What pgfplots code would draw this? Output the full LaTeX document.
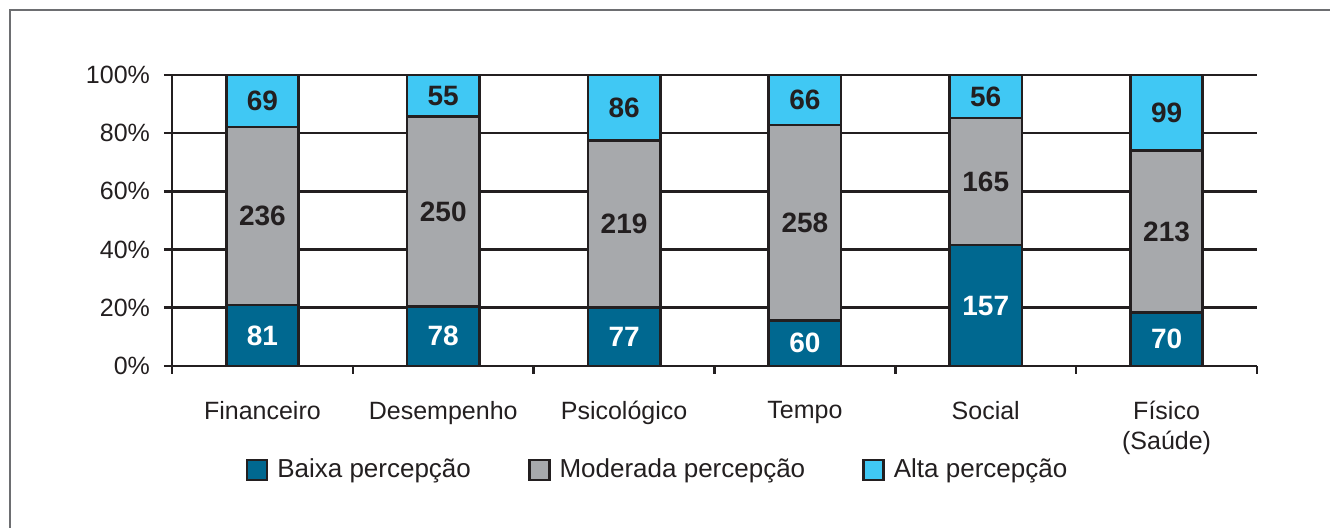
\documentclass[border=0pt]{standalone}
\usepackage{pgfplots}
\pgfplotsset{compat=1.18}
\usepackage{pgfplotstable}
\usepackage{fontspec}
\setmainfont{Liberation Sans}
\definecolor{cBaixa}{HTML}{006890}
\definecolor{cMod}{HTML}{A7A9AC}
\definecolor{cAlta}{HTML}{40C8F4}
\definecolor{cLine}{HTML}{231F20}
\definecolor{cFrame}{HTML}{6D6E71}
\pgfplotstableread{
x b m a bn mn an
0 20.98 61.14 17.88 81 236 69
1 20.37 65.27 14.36 78 250 55
2 20.16 57.33 22.51 77 219 86
3 15.63 67.19 17.18 60 258 66
4 41.53 43.65 14.82 157 165 56
5 18.32 55.76 25.92 70 213 99
}\data
\begin{document}
\begin{tikzpicture}
\useasboundingbox (-86pt,-81pt) rectangle (579pt,183pt);
\draw[cFrame, line width=1.2pt] (-81pt,-100pt) -- (-81pt,178pt) -- (600pt,178pt);
\begin{axis}[
  at={(0,0)}, anchor=south west,
  scale only axis, width=542.5pt, height=145.5pt,
  ybar stacked, bar width=0.4,
  xmin=-0.5, xmax=5.5, ymin=0, ymax=100,
  axis x line*=bottom, axis y line*=left,
  axis line style={cLine, line width=1.3pt},
  tick align=outside, major tick length=4pt,
  tick style={cLine, line width=1.3pt},
  ytick={0,20,...,100},
  yticklabel={\pgfmathprintnumber{\tick}\%},
  yticklabel style={xshift=-3.5pt},
  /pgf/number format/assume math mode=true,
  ymajorgrids, grid style={cLine, line width=1.3pt},
  xtick={-0.5,0.5,...,5.5}, xticklabels={},
  extra x ticks={0,1,2,3,4,5},
  extra x tick labels={Financeiro,Desempenho,Psicológico,Tempo,Social,{Físico\\(Saúde)}},
  extra x tick style={major tick length=0pt, xticklabel style={align=center, yshift=-14pt}},
  ticklabel style={font=\fontsize{12.5}{15}\selectfont, text=cLine},
  legend columns=3,
  legend style={at={(0.4507,-0.357)}, anchor=center, draw=none,
    font=\fontsize{13}{15}\selectfont, text=cLine,
    nodes={inner xsep=4.5pt},
    /tikz/every even column/.append style={column sep=24pt}},
  legend image code/.code={\draw[#1, line width=1.3pt] (0pt,-5pt) rectangle (10pt,5pt);},
  nodes near coords,
  point meta=explicit symbolic,
  every node near coord/.append style={anchor=center, font=\fontsize{14}{16}\bfseries\selectfont},
]
\addplot[fill=cBaixa, draw=cLine, line width=1.3pt,
  every node near coord/.append style={text=white}]
  table[x=x, y=b, meta=bn] {\data};
\addplot[fill=cMod, draw=cLine, line width=1.3pt,
  every node near coord/.append style={text=cLine}]
  table[x=x, y=m, meta=mn] {\data};
\addplot[fill=cAlta, draw=cLine, line width=1.3pt,
  every node near coord/.append style={text=cLine}]
  table[x=x, y=a, meta=an] {\data};
\legend{Baixa percepção, Moderada percepção, Alta percepção}
\end{axis}
\end{tikzpicture}
\end{document}
